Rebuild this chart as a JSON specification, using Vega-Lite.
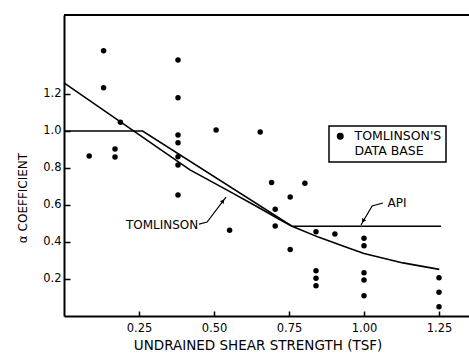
{
  "$schema": "https://vega.github.io/schema/vega-lite/v6.json",
  "width": 405,
  "height": 301,
  "autosize": {"type": "none"},
  "padding": {"left": 64, "top": 15, "right": 0, "bottom": 37},
  "background": "white",
  "config": {
    "view": {"stroke": null},
    "font": "DejaVu Sans",
    "legend": {"strokeWidth": 1.5}
  },
  "datasets": {
    "pts": [
      {"x": 0.084, "y": 0.865}, {"x": 0.132, "y": 1.434}, {"x": 0.132, "y": 1.234},
      {"x": 0.17, "y": 0.903}, {"x": 0.17, "y": 0.859}, {"x": 0.188, "y": 1.047},
      {"x": 0.38, "y": 1.384}, {"x": 0.38, "y": 1.18}, {"x": 0.38, "y": 0.978},
      {"x": 0.38, "y": 0.937}, {"x": 0.38, "y": 0.861}, {"x": 0.38, "y": 0.816},
      {"x": 0.38, "y": 0.654}, {"x": 0.507, "y": 1.005}, {"x": 0.552, "y": 0.463},
      {"x": 0.654, "y": 0.995}, {"x": 0.692, "y": 0.722}, {"x": 0.704, "y": 0.577},
      {"x": 0.704, "y": 0.487}, {"x": 0.754, "y": 0.643}, {"x": 0.754, "y": 0.36},
      {"x": 0.803, "y": 0.717}, {"x": 0.84, "y": 0.456}, {"x": 0.903, "y": 0.443},
      {"x": 1.0, "y": 0.42}, {"x": 1.0, "y": 0.38}, {"x": 0.84, "y": 0.245},
      {"x": 0.84, "y": 0.204}, {"x": 0.84, "y": 0.164}, {"x": 1.0, "y": 0.234},
      {"x": 1.0, "y": 0.195}, {"x": 1.0, "y": 0.11}, {"x": 1.25, "y": 0.207},
      {"x": 1.25, "y": 0.128}, {"x": 1.25, "y": 0.05}
    ],
    "curves": [
      {"curve": "API", "order": 1, "x": 0, "y": 1.0},
      {"curve": "API", "order": 2, "x": 0.262, "y": 1.0},
      {"curve": "API", "order": 3, "x": 0.76, "y": 0.485},
      {"curve": "API", "order": 4, "x": 1.257, "y": 0.485},
      {"curve": "TOMLINSON", "order": 1, "x": 0, "y": 1.26},
      {"curve": "TOMLINSON", "order": 2, "x": 0.42, "y": 0.79},
      {"curve": "TOMLINSON", "order": 3, "x": 0.55, "y": 0.675},
      {"curve": "TOMLINSON", "order": 4, "x": 0.65, "y": 0.585},
      {"curve": "TOMLINSON", "order": 5, "x": 0.72, "y": 0.52},
      {"curve": "TOMLINSON", "order": 6, "x": 0.76, "y": 0.485},
      {"curve": "TOMLINSON", "order": 7, "x": 0.85, "y": 0.425},
      {"curve": "TOMLINSON", "order": 8, "x": 0.93, "y": 0.378},
      {"curve": "TOMLINSON", "order": 9, "x": 1.0, "y": 0.338},
      {"curve": "TOMLINSON", "order": 10, "x": 1.13, "y": 0.287},
      {"curve": "TOMLINSON", "order": 11, "x": 1.251, "y": 0.252}
    ],
    "notes": [
      {"text": "TOMLINSON", "x": 0.327, "y": 0.492},
      {"text": "API", "x": 1.11, "y": 0.611}
    ],
    "leaders": [
      {"leader": "T", "order": 1, "x": 0.45, "y": 0.497},
      {"leader": "T", "order": 2, "x": 0.477, "y": 0.508},
      {"leader": "T", "order": 3, "x": 0.54, "y": 0.643},
      {"leader": "A", "order": 1, "x": 1.063, "y": 0.611},
      {"leader": "A", "order": 2, "x": 1.027, "y": 0.595},
      {"leader": "A", "order": 3, "x": 0.99, "y": 0.492}
    ],
    "frame": [{"top": 1.627}]
  },
  "layer": [
    {
      "data": {"name": "pts"},
      "mark": {"type": "circle", "size": 30, "opacity": 1},
      "encoding": {
        "x": {
          "field": "x", "type": "quantitative",
          "scale": {"domain": [0, 1.35], "nice": false, "zero": false},
          "axis": {
            "title": "UNDRAINED SHEAR STRENGTH (TSF)",
            "values": [0.25, 0.5, 0.75, 1, 1.25],
            "format": ".2f",
            "grid": false,
            "domainColor": "black", "domainWidth": 2,
            "tickColor": "black", "tickWidth": 1.5, "tickSize": -5,
            "labelFont": "DejaVu Sans", "labelFontSize": 11.5, "labelColor": "black",
            "labelPadding": 11, "labelFlush": false,
            "titleFont": "DejaVu Sans", "titleFontSize": 13.5, "titleFontWeight": "normal",
            "titleColor": "black", "titleX": 193.5, "titleY": 33,
            "titleBaseline": "alphabetic", "titleAlign": "center"
          }
        },
        "y": {
          "field": "y", "type": "quantitative",
          "scale": {"domain": [0, 1.627], "nice": false, "zero": false},
          "axis": {
            "title": "α COEFFICIENT",
            "values": [0.2, 0.4, 0.6, 0.8, 1.0, 1.2],
            "format": ".1f",
            "grid": false,
            "domainColor": "black", "domainWidth": 2,
            "tickColor": "black", "tickWidth": 1.5, "tickSize": -6,
            "labelFont": "DejaVu Sans", "labelFontSize": 11.5, "labelColor": "black",
            "labelPadding": 9,
            "titleFont": "DejaVu Sans", "titleFontSize": 12, "titleFontWeight": "normal",
            "titleColor": "black", "titleX": -42, "titleY": 182.5, "titleAngle": -90,
            "titleAlign": "center", "titleBaseline": "middle"
          }
        },
        "color": {
          "datum": "TOMLINSON'S DATA BASE", "type": "nominal",
          "scale": {"range": ["black"]},
          "legend": {
            "orient": "none", "legendX": 265, "legendY": 111,
            "title": null,
            "strokeColor": "black",
            "padding": 4,
            "symbolType": "circle", "symbolSize": 30, "symbolOffset": 1,
            "symbolFillColor": "black", "symbolStrokeColor": "black",
            "labelFont": "DejaVu Sans", "labelFontSize": 12.5, "labelColor": "black",
            "labelOffset": 8, "labelLimit": 0,
            "labelExpr": "[\"TOMLINSON'S\", \"DATA BASE\"]"
          }
        }
      }
    },
    {
      "data": {"name": "frame"},
      "mark": {"type": "rule", "color": "black", "strokeWidth": 2},
      "encoding": {"y": {"field": "top", "type": "quantitative"}}
    },
    {
      "data": {"name": "curves"},
      "mark": {"type": "line", "color": "black", "strokeWidth": 1.6},
      "encoding": {
        "x": {"field": "x", "type": "quantitative"},
        "y": {"field": "y", "type": "quantitative"},
        "detail": {"field": "curve"},
        "order": {"field": "order"}
      }
    },
    {
      "data": {"name": "leaders"},
      "mark": {"type": "line", "color": "black", "strokeWidth": 1.2},
      "encoding": {
        "x": {"field": "x", "type": "quantitative"},
        "y": {"field": "y", "type": "quantitative"},
        "detail": {"field": "leader"},
        "order": {"field": "order"}
      }
    },
    {
      "data": {"values": [{"x": 0.53, "y": 0.622}]},
      "mark": {"type": "point", "shape": "triangle-up", "filled": true, "opacity": 1, "color": "black", "size": 22, "angle": 37},
      "encoding": {
        "x": {"field": "x", "type": "quantitative"},
        "y": {"field": "y", "type": "quantitative"}
      }
    },
    {
      "data": {"values": [{"x": 0.997, "y": 0.514}]},
      "mark": {"type": "point", "shape": "triangle-up", "filled": true, "opacity": 1, "color": "black", "size": 22, "angle": 210},
      "encoding": {
        "x": {"field": "x", "type": "quantitative"},
        "y": {"field": "y", "type": "quantitative"}
      }
    },
    {
      "data": {"name": "notes"},
      "mark": {"type": "text", "font": "DejaVu Sans", "fontSize": 12, "color": "black", "align": "center", "baseline": "middle"},
      "encoding": {
        "x": {"field": "x", "type": "quantitative"},
        "y": {"field": "y", "type": "quantitative"},
        "text": {"field": "text"}
      }
    }
  ]
}
